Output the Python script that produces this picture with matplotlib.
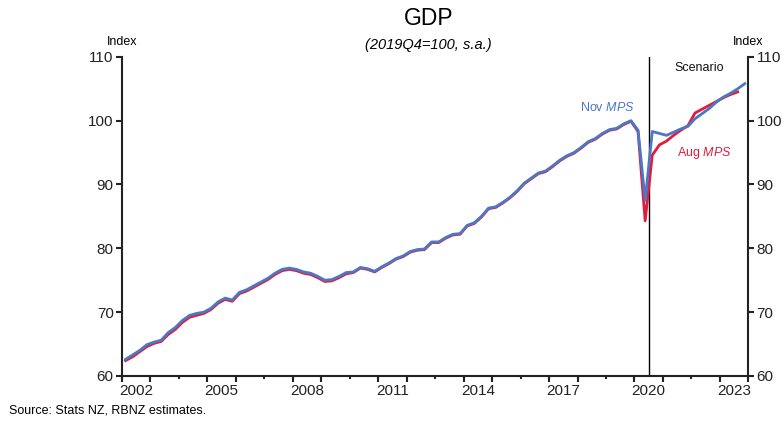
import matplotlib
matplotlib.use("Agg")
import matplotlib.pyplot as plt
import numpy as np

plt.rcParams['font.family'] = ['Liberation Sans', 'DejaVu Sans']
plt.rcParams['mathtext.fontset'] = 'custom'
plt.rcParams['mathtext.rm'] = 'Liberation Sans'
plt.rcParams['mathtext.it'] = 'Liberation Sans:italic'

# quarterly GDP index, 2002Q1 onwards (2019Q4 = 100)
start_year = 2002
nov_mps = [62.6, 63.3, 64.0, 64.9, 65.3, 65.6, 66.8, 67.6, 68.7, 69.5, 69.8, 70.0,
           70.6, 71.6, 72.2, 71.9, 73.1, 73.5, 74.1, 74.7, 75.3, 76.1, 76.7, 76.9,
           76.7, 76.3, 76.1, 75.6, 75.0, 75.1, 75.6, 76.2, 76.3, 77.0, 76.8, 76.4,
           77.1, 77.7, 78.4, 78.8, 79.5, 79.8, 79.9, 81.0, 81.0, 81.7, 82.2, 82.3,
           83.6, 84.0, 85.0, 86.3, 86.5, 87.2, 88.0, 89.0, 90.2, 91.0, 91.8, 92.1,
           92.9, 93.8, 94.5, 95.0, 95.8, 96.7, 97.2, 98.0, 98.6, 98.8, 99.5, 100.0,
           98.5, 87.5, 98.3, 98.0, 97.7, 98.2, 98.7, 99.1, 100.3, 101.1, 101.9, 102.9,
           103.7, 104.3, 105.0, 105.8]
aug_mps = [62.4, 63.0, 63.8, 64.6, 65.1, 65.4, 66.5, 67.3, 68.4, 69.2, 69.5, 69.8,
           70.4, 71.4, 72.0, 71.7, 72.9, 73.3, 73.9, 74.5, 75.1, 75.9, 76.5, 76.7,
           76.5, 76.1, 75.9, 75.4, 74.8, 74.9, 75.4, 76.0, 76.2, 76.9, 76.7, 76.3,
           77.0, 77.6, 78.3, 78.7, 79.4, 79.7, 79.8, 80.9, 80.9, 81.6, 82.1, 82.2,
           83.5, 83.9, 84.9, 86.2, 86.4, 87.1, 87.9, 88.9, 90.1, 90.9, 91.7, 92.0,
           92.8, 93.7, 94.4, 94.9, 95.7, 96.6, 97.1, 97.9, 98.5, 98.7, 99.4, 99.9,
           98.3, 84.3, 94.6, 96.2, 96.8, 97.7, 98.5, 99.2, 101.2, 101.8, 102.4, 103.0,
           103.6, 104.1, 104.5]

year_labels = ['2002', '2005', '2008', '2011', '2014', '2017', '2020', '2023']
scenario_start = 2020.5

# quarters plotted at the middle of each quarter
def quarter_pos(n):
    return start_year + (np.arange(n) + 0.5) / 4

fig = plt.figure(figsize=(7.82, 4.21), dpi=100)
ax = fig.add_axes([0.156, 0.107, 0.801, 0.758])

ax.plot(quarter_pos(len(aug_mps)), aug_mps, color='#e31b3c', lw=2.0, zorder=3)
ax.plot(quarter_pos(len(nov_mps)), nov_mps, color='#4a78c2', lw=2.0, zorder=4)
ax.axvline(scenario_start, color='black', lw=1, zorder=2)

ax.set_xlim(2002, 2024)
ax.set_ylim(60, 110)

ax.spines['top'].set_visible(False)
for s in ['left', 'right', 'bottom']:
    ax.spines[s].set_linewidth(1.5)
    ax.spines[s].set_color('#222222')

# y axis on both sides
ax.set_yticks(np.arange(60, 111, 10))
ax.tick_params(axis='y', which='major', direction='out', length=4, width=1.5,
               labelsize=11, left=True, right=True, labelleft=True, labelright=True,
               colors='#222222', pad=2)

# year boundary ticks, labels centred within the year
years = np.arange(2002, 2025)
ax.set_xticks(years)
ax.set_xticklabels([])
ax.tick_params(axis='x', which='major', direction='out', length=2.5, width=1.5,
               colors='#222222')
ax.set_xticks([int(y) + 0.5 for y in year_labels], minor=True)
ax.set_xticklabels(year_labels, minor=True)
ax.tick_params(axis='x', which='minor', length=0, labelsize=11, pad=6,
               labelcolor='#222222')

long_ticks = sorted(set([int(y) for y in year_labels] + [int(y) + 1 for y in year_labels]))
sec = ax.secondary_xaxis('bottom')
sec.set_xticks(long_ticks)
sec.set_xticklabels([])
sec.tick_params(direction='out', length=4.5, width=1.5, colors='#222222')
sec.spines['bottom'].set_visible(False)

ax.text(0, 1.045, 'Index', transform=ax.transAxes, ha='center', va='center', fontsize=9)
ax.text(1, 1.045, 'Index', transform=ax.transAxes, ha='center', va='center', fontsize=9)

ax.text(2022.27, 108.3, 'Scenario', ha='center', va='center', fontsize=9, color='#111111')
ax.text(2019.05, 102.1, r'Nov $\mathit{MPS}$', ha='center', va='center', fontsize=9,
        color='#4a78c2')
ax.text(2022.45, 94.9, r'Aug $\mathit{MPS}$', ha='center', va='center', fontsize=9,
        color='#e31b3c')

fig.text(0.548, 0.955, 'GDP', ha='center', va='center', fontsize=16.5)
fig.text(0.548, 0.893, '(2019Q4=100, s.a.)', ha='center', va='center', fontsize=10.5,
         style='italic')
fig.text(0.012, 0.025, 'Source: Stats NZ, RBNZ estimates.', ha='left', va='center',
         fontsize=9)

fig.savefig('out.png', dpi=100)
